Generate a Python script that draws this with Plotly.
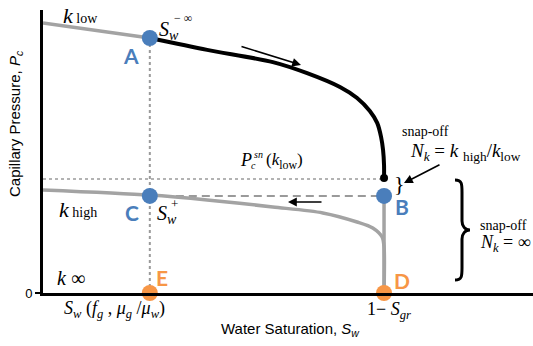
import plotly.graph_objects as go

# ---------------- data (Sw, Pc in normalised units) ----------------
sw_drain = [0.218, 0.335, 0.469, 0.539, 0.606, 0.641, 0.667, 0.682, 0.690, 0.694, 0.696, 0.696]
pc_drain = [0.901, 0.859, 0.816, 0.777, 0.728, 0.689, 0.643, 0.601, 0.551, 0.505, 0.452, 0.406]

sw_klow = [0.0, 0.218]
pc_klow = [0.954, 0.901]

sw_khigh = [0.0, 0.218, 0.335, 0.469, 0.571, 0.641, 0.673, 0.692, 0.696, 0.696]
pc_khigh = [0.364, 0.346, 0.329, 0.304, 0.283, 0.251, 0.230, 0.198, 0.163, 0.0]

sw_BD = [0.696, 0.696]
pc_BD = [0.343, 0.0]

pc_snap = 0.403          # Pc^sn(k_low)
sw_E = 0.218             # Sw(fg, mug/muw)
sw_D = 0.696             # 1 - Sgr
pc_A = 0.901
pc_B = 0.343

blue_names = ["A", "C", "B"]
blue_sw = [sw_E, sw_E, sw_D]
blue_pc = [pc_A, pc_B, pc_B]
orange_names = ["E", "D"]
orange_sw = [sw_E, sw_D]
orange_pc = [0.0, 0.0]

y_ticks = [0]
y_ticklabels = ["0"]

# ---------------- styling ----------------
W, H = 533, 346
L, R, T, B = 43, 0, 10, 53
GRAY = "#a3a3a3"
BLUE = "#4a7ebb"
ORANGE = "#f79646"
SERIF = "Liberation Serif"
SANS = "Liberation Sans"
BOLD = "Lato"


def P(px, py):
    """pixel position -> paper coords (for label placement only)"""
    return ((px - L) / (W - L - R), (H - B - py) / (H - B - T))


fig = go.Figure()

# guide lines
fig.add_trace(go.Scatter(x=[0, sw_D], y=[pc_snap, pc_snap], mode="lines",
                         line=dict(color="#9a9a9a", width=1.5, dash="dot"), hoverinfo="skip"))
fig.add_trace(go.Scatter(x=[sw_E, sw_E], y=[pc_A, 0], mode="lines",
                         line=dict(color="#9a9a9a", width=2, dash="dot"), hoverinfo="skip"))
fig.add_trace(go.Scatter(x=[sw_E, sw_D], y=[pc_B, pc_B], mode="lines",
                         line=dict(color="#9a9a9a", width=2, dash="8px,5px"), hoverinfo="skip"))

# curves
fig.add_trace(go.Scatter(x=sw_klow, y=pc_klow, mode="lines",
                         line=dict(color=GRAY, width=3.5), hoverinfo="skip"))
fig.add_trace(go.Scatter(x=sw_khigh, y=pc_khigh, mode="lines", line_shape="spline",
                         line=dict(color=GRAY, width=3.5, smoothing=0.8), hoverinfo="skip"))
fig.add_trace(go.Scatter(x=sw_BD, y=pc_BD, mode="lines",
                         line=dict(color=GRAY, width=3.5), hoverinfo="skip"))
fig.add_trace(go.Scatter(x=sw_drain, y=pc_drain, mode="lines", line_shape="spline",
                         line=dict(color="black", width=4, smoothing=0.8), hoverinfo="skip"))
fig.add_trace(go.Scatter(x=[sw_drain[-1]], y=[pc_drain[-1]], mode="markers",
                         marker=dict(color="black", size=8), cliponaxis=False, hoverinfo="skip"))

# points
fig.add_trace(go.Scatter(x=blue_sw, y=blue_pc, mode="markers",
                         marker=dict(color=BLUE, size=16), cliponaxis=False, hoverinfo="skip"))
fig.add_trace(go.Scatter(x=orange_sw, y=orange_pc, mode="markers",
                         marker=dict(color=ORANGE, size=16), cliponaxis=False, hoverinfo="skip"))

ann = []


def txt(px, py, text, size=16, family=SERIF, color="black", **kw):
    x, y = P(px, py)
    ann.append(dict(x=x, y=y, xref="paper", yref="paper", text=text, showarrow=False,
                    font=dict(family=family, size=size, color=color),
                    xanchor="center", yanchor="middle", **kw))


def arrow(px0, py0, px1, py1):
    x0, y0 = P(px0, py0)
    x1, y1 = P(px1, py1)
    ann.append(dict(x=x1, y=y1, ax=x0, ay=y0, xref="x", yref="y",
                    axref="x", ayref="y", text="", showarrow=True,
                    arrowhead=2, arrowsize=1.1, arrowwidth=1.6, arrowcolor="black"))


# letters
for n, sx, sy in zip(blue_names, [131, 132, 402], [55, 212, 206]):
    txt(sx, sy, "<b>%s</b>" % n, size=21, family=BOLD, color=BLUE)
txt(162, 277, "<b>E</b>", size=21, family=BOLD, color=ORANGE)
txt(402, 280, "<b>D</b>", size=21, family=BOLD, color=ORANGE)

# math labels
txt(80, 15, "<i>k</i><span style='font-size:14px'> low</span>", size=22)
txt(169, 31, "<i>S</i><sub><i>w</i></sub>", size=20)
txt(183, 18, "− ∞", size=12)
txt(167, 214, "<i>S</i><sub><i>w</i></sub>", size=20)
txt(174, 203, "+", size=13)
txt(78, 209, "<i>k</i><span style='font-size:14px'> high</span>", size=22)
txt(71, 278, "<i>k</i> ∞", size=20)
txt(114, 309, "<i>S</i><sub><i>w</i></sub> (<i>f</i><sub><i>g</i></sub> , <i>μ</i><sub><i>g</i></sub> /<i>μ</i><sub><i>w</i></sub>)", size=18)
txt(389, 310, "1− <i>S</i><sub><i>gr</i></sub>", size=18)
txt(246, 160, "<i>P</i>", size=18)
txt(253, 166, "<i>c</i>", size=10)
txt(258, 154, "<i>sn</i>", size=10)
txt(284, 161, "(<i>k</i><sub>low</sub>)", size=17)

txt(425, 131, "snap-off", size=14)
txt(465, 152, "<i>N</i><sub><i>k</i></sub> = <i>k</i> <sub>high</sub>/<i>k</i><sub>low</sub>", size=19)
txt(399, 184, "}", size=22)
txt(503, 225, "snap-off", size=14)
txt(505, 243, "<i>N</i><sub><i>k</i></sub> = ∞", size=18)

# arrows
arrow(240, 46, 301, 65)
arrow(323, 202, 288, 202)
arrow(441, 164, 404, 183)

# axis titles
txt(15, 124, "Capillary Pressure, <i>P</i><sub><i>c</i></sub>", size=15, family=SANS, textangle=-90)
txt(290, 329, "Water Saturation, <i>S</i><sub><i>w</i></sub>", size=15, family=SANS)

# big brace as a path
def pp(px, py):
    x, y = P(px, py)
    return "%.4f,%.4f" % (x, y)

brace = ("M %s C %s %s %s L %s C %s %s %s C %s %s %s L %s C %s %s %s" % (
    pp(455, 180), pp(462, 180), pp(462, 184), pp(462, 192), pp(462, 221),
    pp(462, 226), pp(465, 230), pp(470, 230),
    pp(465, 230), pp(462, 234), pp(462, 239), pp(462, 268),
    pp(462, 276), pp(462, 280), pp(455, 280)))

fig.update_layout(
    width=W, height=H, margin=dict(l=L, r=R, t=T, b=B),
    paper_bgcolor="white", plot_bgcolor="white", showlegend=False,
    annotations=ann,
    shapes=[dict(type="path", path=brace, xref="x", yref="y",
                 line=dict(color="black", width=3))],
    xaxis=dict(range=[0, 1], showline=True, linewidth=3, linecolor="black",
               showgrid=False, zeroline=False, showticklabels=False, ticks=""),
    yaxis=dict(range=[0, 1], showline=True, linewidth=3, linecolor="black",
               showgrid=False, zeroline=False, tickvals=y_ticks, ticktext=y_ticklabels,
               ticks="outside", ticklen=5, tickwidth=2, tickcolor="black",
               tickfont=dict(family=SANS, size=13, color="black")),
)

fig.write_html("out.html")
